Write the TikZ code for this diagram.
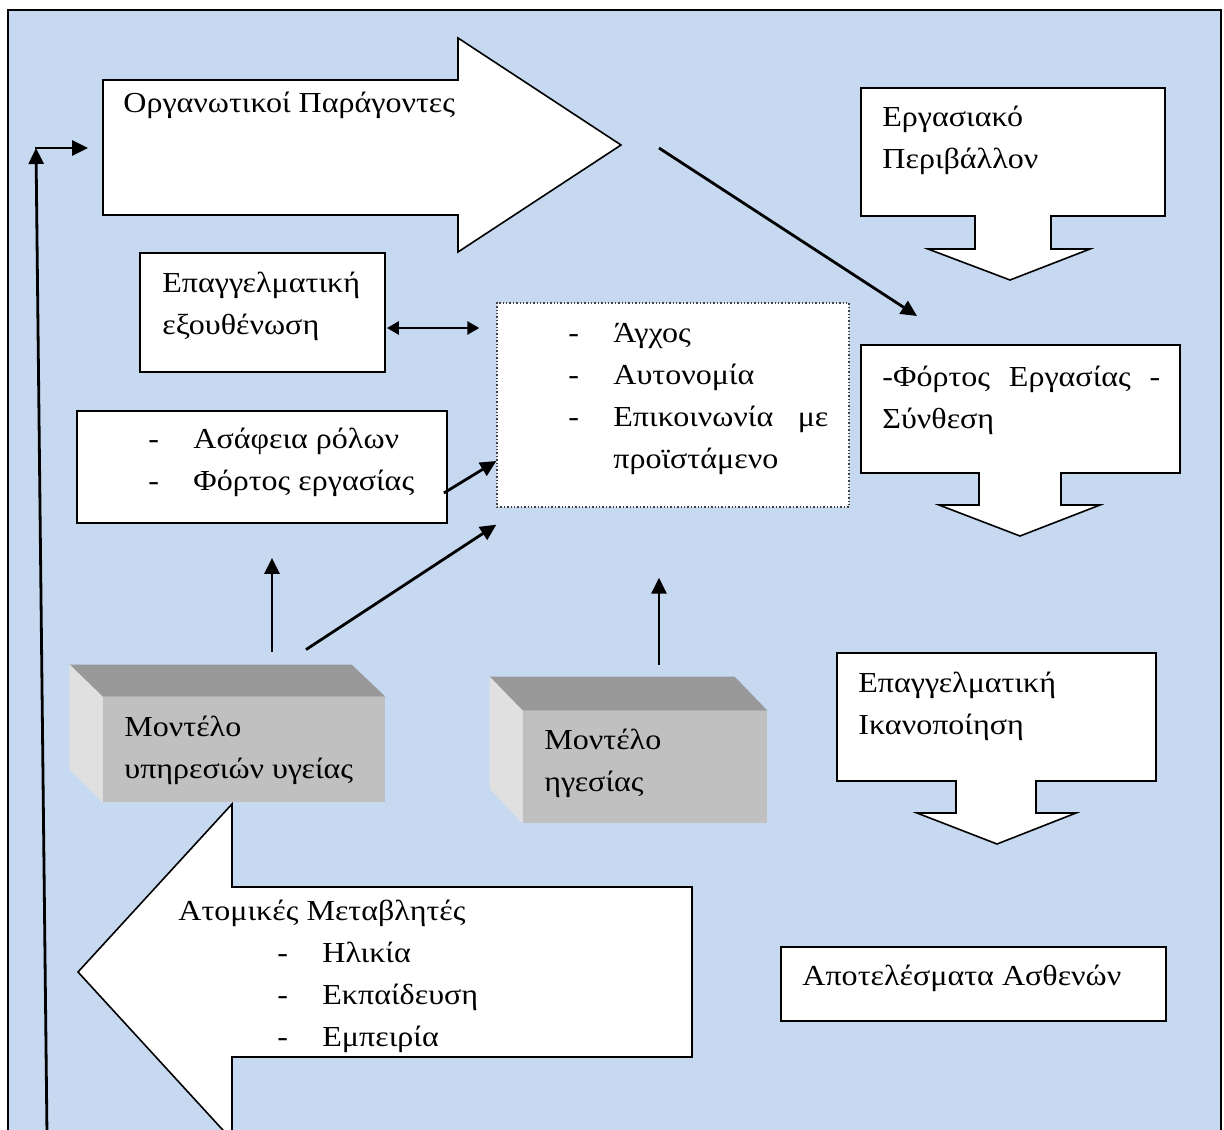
\documentclass[tikz,border=0pt]{standalone}
\usepackage{fontspec}
\setmainfont{Liberation Serif}[FakeStretch=1.105]
\usetikzlibrary{arrows.meta}
\definecolor{bgblue}{RGB}{198,217,240}
\definecolor{facefront}{RGB}{192,192,192}
\definecolor{facetop}{RGB}{153,153,153}
\definecolor{faceside}{RGB}{224,224,224}
\newcommand{\diagfont}{\fontsize{14.5pt}{21pt}\selectfont}
\newcommand{\dashitem}{\makebox[22.5pt][l]{-}}
\tikzset{
  box/.style={draw, fill=white, line width=0.9pt, inner sep=0pt},
  dotbox/.style={draw=black!75, densely dotted, fill=white, line width=0.7pt, inner sep=0pt},
  blockarrow/.style={draw, fill=white, line width=0.8pt, line join=miter},
  txt/.style={font=\diagfont, align=left, inner sep=0pt, anchor=west},
  face/.style={fill=facefront, inner sep=0pt},
  arr/.style={-{Triangle[length=8pt,width=7.5pt]}, line width=1.4pt},
  dbl/.style={{Triangle[length=6pt,width=6.5pt]}-{Triangle[length=6pt,width=6.5pt]}, line width=1.4pt}
}
\begin{document}
\begin{tikzpicture}[x=0.5pt,y=-0.5pt]
\useasboundingbox (0,0) rectangle (1224,1129);
\clip (0,0) rectangle (1224,1129);
\fill[bgblue] (8,10) rectangle (1221,1140);
\draw[line width=1pt] (8,1140) -- (8,10) -- (1221,10) -- (1221,1140);

\draw[blockarrow] (103,80) -- (458,80) -- (458,38) -- (621,145) -- (458,252) -- (458,215) -- (103,215) -- cycle;
\coordinate (orgtip) at (621,145);
\coordinate (orgback) at (103,148);
\node[txt] (orgtxt) at (123,105) {Οργανωτικοί Παράγοντες};

\draw[blockarrow] (861,88) -- (1165,88) -- (1165,216) -- (1051,216) -- (1051,249) -- (1090,249) -- (1010,280) -- (928,249) -- (975,249) -- (975,216) -- (861,216) -- cycle;
\node[txt] (envtxt) at (882,140) {Εργασιακό\\Περιβάλλον};

\draw[blockarrow] (861,345) -- (1180,345) -- (1180,473) -- (1061,473) -- (1061,505) -- (1100,505) -- (1020,536) -- (939,505) -- (979,505) -- (979,473) -- (861,473) -- cycle;
\coordinate (loadnw) at (861,345);
\node[txt] (loadtxt) at (882,400) {\makebox[139pt][s]{-Φόρτος Εργασίας -}\\Σύνθεση};

\draw[blockarrow] (837,653) -- (1156,653) -- (1156,781) -- (1036,781) -- (1036,813) -- (1076,813) -- (997,844) -- (917,813) -- (956,813) -- (956,781) -- (837,781) -- cycle;
\node[txt] (sattxt) at (858,706) {Επαγγελματική\\Ικανοποίηση};

\draw[blockarrow] (692,887) -- (692,1057) -- (232,1057) -- (232,1140) -- (78,972) -- (232,804) -- (232,887) -- cycle;
\node[txt] (indivtxt) at (178,976.5) {Ατομικές Μεταβλητές\\\hspace*{49.5pt}\dashitem Ηλικία\\\hspace*{49.5pt}\dashitem Εκπαίδευση\\\hspace*{49.5pt}\dashitem Εμπειρία};

\node[box, minimum width=122.5pt, minimum height=59.5pt] (burn) at (262.5,312.5) {};
\node[txt] (burntxt) at (162,306) {Επαγγελματική\\εξουθένωση};
\node[box, minimum width=185pt, minimum height=56pt] (roles) at (262,467) {};
\node[txt] (roletxt) at (148,462.5) {\dashitem Ασάφεια ρόλων\\\dashitem Φόρτος εργασίας};
\node[dotbox, minimum width=176pt, minimum height=102pt] (stress) at (673,405) {};
\node[txt] (stresstxt) at (568,399.5) {\dashitem Άγχος\\\dashitem Αυτονομία\\\dashitem\makebox[107.5pt][l]{Επικοινωνία\hfill με}\\\hspace*{22.5pt}προϊστάμενο};
\node[box, minimum width=192.5pt, minimum height=37pt] (outc) at (973.5,984) {};
\node[txt] (outtxt) at (802,978) {Αποτελέσματα Ασθενών};

\node[face, minimum width=141pt, minimum height=52.5pt] (svc) at (244,749.5) {};
\fill[facetop] (svc.north west) -- ++(-33,-32) -- ++(282,0) -- (svc.north east) -- cycle;
\fill[faceside] (svc.north west) -- ++(-33,-32) -- ++(0,105) -- (svc.south west) -- cycle;
\node[txt] (svctxt) at (124,750.5) {Μοντέλο\\υπηρεσιών υγείας};
\node[face, minimum width=122pt, minimum height=56pt] (lead) at (645,767) {};
\fill[facetop] (lead.north west) -- ++(-33,-34) -- ++(245,0) -- (lead.north east) -- cycle;
\fill[faceside] (lead.north west) -- ++(-33,-34) -- ++(0,112) -- (lead.south west) -- cycle;
\node[txt] (leadtxt) at (544,763.5) {Μοντέλο\\ηγεσίας};

\draw[arr] ([shift={(38,3)}]orgtip) -- ([shift={(56,-29)}]loadnw);
\draw[dbl] ([shift={(1,15.5)}]burn.east) -- ([shift={(-17,-77)}]stress.west);
\draw[arr] ([shift={(-4,26)}]roles.east) -- ([shift={(0,56)}]stress.west);
\draw[arr] ([shift={(28,-45)}]svc.north) -- ([shift={(10,34)}]roles.south);
\draw[arr] ([shift={(62,-47)}]svc.north) -- ([shift={(0,17)}]stress.south west);
\draw[arr] ([shift={(14,-46)}]lead.north) -- ([shift={(-14,70)}]stress.south);
\coordinate (loopbot) at (47,1135);
\coordinate (loopcorner) at (36,148);
\draw[arr] (loopbot) -- (loopcorner);
\draw[arr] ([xshift=-0.7pt]loopcorner) -- ([shift={(-15,0)}]orgback);
\end{tikzpicture}
\end{document}
